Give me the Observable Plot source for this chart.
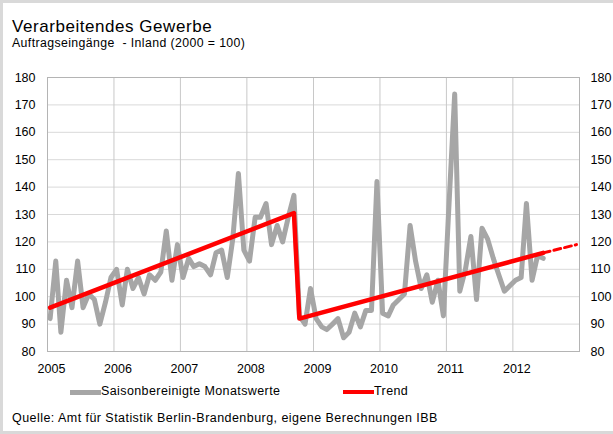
<!DOCTYPE html>
<html>
<head>
<meta charset="utf-8">
<script src="https://cdn.jsdelivr.net/npm/d3@7"></script>
<script src="https://cdn.jsdelivr.net/npm/@observablehq/plot@0.6"></script>
<style>
  html, body { margin: 0; padding: 0; background: #fff; }
  body { font-family: "Liberation Sans", Arial, sans-serif; color: #000; }
  #fig { position: relative; width: 613px; height: 434px; overflow: hidden; background: #fff; }
  #frame { position: absolute; left: 0; top: 0; width: 613px; height: 434px; box-sizing: border-box;
           border: 3px solid #d9d9d9; border-right-width: 0; pointer-events: none; }
  .txt { position: absolute; white-space: pre; line-height: 1; }
  #title { left: 12px; top: 18px; font-size: 17px; letter-spacing: 0.55px; }
  #sub { left: 12px; top: 36.5px; font-size: 12.3px; letter-spacing: 0.4px; }
  #chart { position: absolute; left: 0; top: 55px; }
  #caption { left: 12px; top: 412px; font-size: 12.5px; letter-spacing: 0.45px; }
  .sw { position: absolute; height: 5px; }
  .lg { position: absolute; font-size: 12.5px; line-height: 1; white-space: pre; letter-spacing: 0.4px; }
  #chart svg g[aria-label="y-axis tick label"] text { letter-spacing: 0; }
</style>
</head>
<body>
<div id="fig">
  <div id="title" class="txt">Verarbeitendes Gewerbe</div>
  <div id="sub" class="txt">Auftragseingänge  - Inland (2000 = 100)</div>
  <div id="chart"></div>
  <div class="sw" style="left:70px; top:389.5px; width:31px; background:#a6a6a6;"></div>
  <div class="lg" style="left:101px; top:385px;">Saisonbereinigte Monatswerte</div>
  <div class="sw" style="left:343px; top:389.5px; width:31px; background:#ff0000; height:4.5px;"></div>
  <div class="lg" style="left:374px; top:385px;">Trend</div>
  <div id="caption" class="txt">Quelle: Amt für Statistik Berlin-Brandenburg, eigene Berechnungen IBB</div>
  <div id="frame"></div>
</div>
<script>
// ---- Data ----
const startYear = 2005;
// Saisonbereinigte Monatswerte, Jan 2005 – Jun 2012
const monatswerte = [
  92, 113, 87, 106, 96, 113, 96, 101, 99, 90, 98, 107,      // 2005
  110, 97, 110, 103, 107, 101, 108, 106, 109, 124, 106, 119, // 2006
  107, 114, 111, 112, 111, 108, 116, 117, 107, 121, 145, 117, // 2007
  113, 129, 129, 134, 119, 126, 120, 129, 137, 93, 90, 103, // 2008
  92, 89, 88, 90, 92, 85, 87, 94, 89, 95, 95, 142,          // 2009
  94, 93, 97, 99, 101, 126, 113, 103, 108, 98, 106, 93,     // 2010
  134, 174, 102, 110, 122, 99, 125, 121, 114, 108, 102, 104, // 2011
  106, 107, 134, 106, 115, 114                               // 2012
];
// Trend (solid) and its extension (dashed)
const trendMonate = ["2005-01", "2008-09", "2008-10", "2012-06"];
const trendWerte = [96, 130.5, 92, 116];
const prognoseMonate = ["2012-06", "2012-12"];
const prognoseWerte = [116, 119];
// Axis ticks
const jahre = [2005, 2006, 2007, 2008, 2009, 2010, 2011, 2012];
const yTicks = [80, 90, 100, 110, 120, 130, 140, 150, 160, 170, 180];

// ---- Build tables ----
const mid = (y, m) => new Date(Date.UTC(y, m, 15, 12));
const parseMonat = s => { const [y, m] = s.split("-").map(Number); return mid(y, m - 1); };
const reihe = monatswerte.map((v, i) => ({ date: mid(startYear + Math.floor(i / 12), i % 12), value: v }));
const trend = trendMonate.map((s, i) => ({ date: parseMonat(s), value: trendWerte[i] }));
const prognose = prognoseMonate.map((s, i) => ({ date: parseMonat(s), value: prognoseWerte[i] }));
const jahrDaten = jahre.map(y => new Date(Date.UTC(y, 0, 1)));

const chart = Plot.plot({
  width: 613,
  height: 325,
  marginTop: 22,
  marginBottom: 29,
  marginLeft: 47,
  marginRight: 34,
  style: { fontFamily: "'Liberation Sans', Arial, sans-serif", fontSize: "12.5px", color: "#000", background: "transparent", overflow: "visible" },
  x: { type: "utc", domain: [new Date(Date.UTC(2005, 0, 1)), new Date(Date.UTC(2013, 0, 1))] },
  y: { domain: [80, 180] },
  marks: [
    Plot.ruleY(yTicks, { stroke: "#d9d9d9", strokeWidth: 1 }),
    Plot.ruleX(jahrDaten, { stroke: "#c8c8c8", strokeWidth: 1 }),
    Plot.frame({ stroke: "#b4b4b4" }),
    Plot.axisY(yTicks, { anchor: "left", tickSize: 0, tickPadding: 12, label: null }),
    Plot.axisY(yTicks, { anchor: "right", tickSize: 0, tickPadding: 11, label: null }),
    Plot.axisX(jahrDaten, { anchor: "bottom", tickSize: 0, tickPadding: 13, tickFormat: d3.utcFormat("%Y"), label: null, dx: 4 }),
    Plot.line(reihe, { x: "date", y: "value", stroke: "#a6a6a6", strokeWidth: 5, strokeLinejoin: "round", strokeLinecap: "round" }),
    Plot.line(trend, { x: "date", y: "value", stroke: "#ff0000", strokeWidth: 4.5, strokeLinejoin: "round" }),
    Plot.line(prognose, { x: "date", y: "value", stroke: "#ff0000", strokeWidth: 3, strokeDasharray: "7,4" })
  ]
});
document.getElementById("chart").appendChild(chart);
</script>
</body>
</html>
